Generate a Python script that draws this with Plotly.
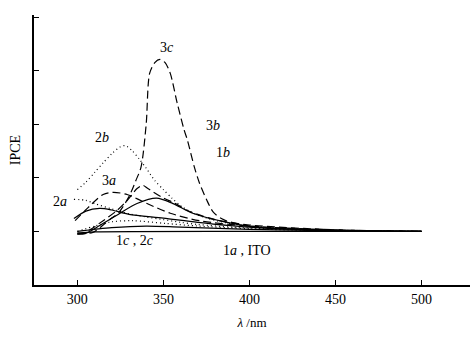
import plotly.graph_objects as go

# wavelength (nm) / IPCE (arbitrary units)
x_3c = [300, 309, 315, 320, 324, 330, 334, 337, 340, 342, 345, 348, 351, 354, 358, 362, 364, 368, 371, 375, 379, 385, 400, 450, 500]
y_3c = [-0.03, -0.02, 0.12, 0.25, 0.35, 0.65, 0.95, 1.2, 2.0, 2.95, 3.15, 3.21, 3.15, 2.95, 2.4, 1.9, 1.7, 1.2, 0.9, 0.6, 0.36, 0.22, 0.1, 0.02, 0.0]

x_3b = [300, 304.5, 315, 323, 329, 334.7, 338, 341, 349, 357, 364, 380, 400, 450, 500]
y_3b = [-0.05, -0.02, 0.2, 0.39, 0.58, 0.8, 0.86, 0.8, 0.64, 0.52, 0.39, 0.22, 0.12, 0.03, 0.0]

x_3a = [298.7, 304.5, 315, 320.8, 328.9, 340.5, 354, 371, 400, 450, 500]
y_3a = [0.2, 0.39, 0.69, 0.73, 0.69, 0.52, 0.34, 0.2, 0.1, 0.03, 0.0]

x_2b = [300, 305, 310, 315, 320, 325, 328, 332, 336, 340, 345, 350, 355, 360, 365, 375, 390, 410, 450, 500]
y_2b = [0.78, 0.92, 1.1, 1.28, 1.45, 1.58, 1.6, 1.5, 1.35, 1.18, 0.95, 0.78, 0.62, 0.48, 0.38, 0.25, 0.14, 0.07, 0.02, 0.0]

x_2a = [298, 305, 310, 320, 330, 340, 350, 360, 370, 390, 420, 460, 500]
y_2a = [0.6, 0.58, 0.52, 0.42, 0.33, 0.27, 0.22, 0.17, 0.13, 0.08, 0.04, 0.01, 0.0]

x_2c = [300, 310, 320, 332, 351, 370, 400, 450, 500]
y_2c = [0.0, 0.1, 0.18, 0.2, 0.15, 0.1, 0.05, 0.01, 0.0]

x_1b = [300, 304.5, 313, 324.8, 334.7, 346, 355.6, 367, 387, 406, 450, 500]
y_1b = [-0.05, -0.04, 0.11, 0.34, 0.52, 0.62, 0.52, 0.34, 0.17, 0.07, 0.02, 0.0]

x_1c = [298, 305, 313, 320, 330, 350, 370, 400, 450, 500]
y_1c = [0.24, 0.38, 0.43, 0.4, 0.32, 0.25, 0.17, 0.08, 0.02, 0.0]

x_1a = [300, 320, 340, 360, 400, 450, 500]
y_1a = [0.0, 0.07, 0.1, 0.08, 0.04, 0.01, 0.0]

x_ito = [300, 310, 400, 500]
y_ito = [-0.03, -0.01, 0.0, 0.0]

x_ticks = [300, 350, 400, 450, 500]
y_ticks = [0, 1, 2, 3, 4]

labels = ["3<i>c</i>", "2<i>b</i>", "3<i>b</i>", "1<i>b</i>", "3<i>a</i>", "2<i>a</i>", "1<i>c</i> , 2<i>c</i>", "1<i>a</i> , ITO"]
label_x = [352.0, 314.5, 379.0, 384.8, 318.5, 290.0, 333.5, 398.5]
label_y = [3.44, 1.76, 1.98, 1.48, 0.95, 0.55, -0.17, -0.36]

FONT = "Liberation Serif, Times New Roman, serif"
LONG_DASH = "8px,4px"
DOT = "1px,3px"

series = [
    (x_3c, y_3c, LONG_DASH),
    (x_3b, y_3b, LONG_DASH),
    (x_3a, y_3a, LONG_DASH),
    (x_2b, y_2b, DOT),
    (x_2a, y_2a, DOT),
    (x_2c, y_2c, DOT),
    (x_1b, y_1b, "solid"),
    (x_1c, y_1c, "solid"),
    (x_1a, y_1a, "solid"),
    (x_ito, y_ito, "solid"),
]

fig = go.Figure()
for xs, ys, dash in series:
    fig.add_trace(go.Scatter(x=xs, y=ys, mode="lines",
                             line=dict(color="black", width=1.2, dash=dash, shape="spline", smoothing=0.8),
                             showlegend=False, hoverinfo="skip"))

for t, lx, ly in zip(labels, label_x, label_y):
    fig.add_annotation(x=lx, y=ly, text=t, showarrow=False,
                       font=dict(family=FONT, size=14, color="black"))

fig.update_layout(
    width=472, height=339,
    margin=dict(l=34, r=2, t=15, b=54),
    paper_bgcolor="white", plot_bgcolor="white",
    font=dict(family=FONT, color="black"),
)
fig.update_xaxes(range=[274.8, 528.2], tickvals=x_ticks, ticks="inside", ticklen=5,
                 tickcolor="black", showline=True, linecolor="black", linewidth=1.5,
                 showgrid=False, zeroline=False, tickfont=dict(family=FONT, size=14),
                 automargin=False,
                 title=dict(text="<i>λ</i> /nm", font=dict(family=FONT, size=13), standoff=12))
fig.update_yaxes(range=[-1.0, 4.04], tickvals=y_ticks, ticks="inside", ticklen=5,
                 tickcolor="black", showline=True, linecolor="black", linewidth=1.5,
                 showgrid=False, zeroline=False, showticklabels=False,
                 automargin=False,
                 title=dict(text="IPCE", font=dict(family=FONT, size=14), standoff=8))

fig.write_html("out.html", config={"displayModeBar": False},
               post_script="document.body.style.margin='0';document.body.style.overflow='hidden';")
